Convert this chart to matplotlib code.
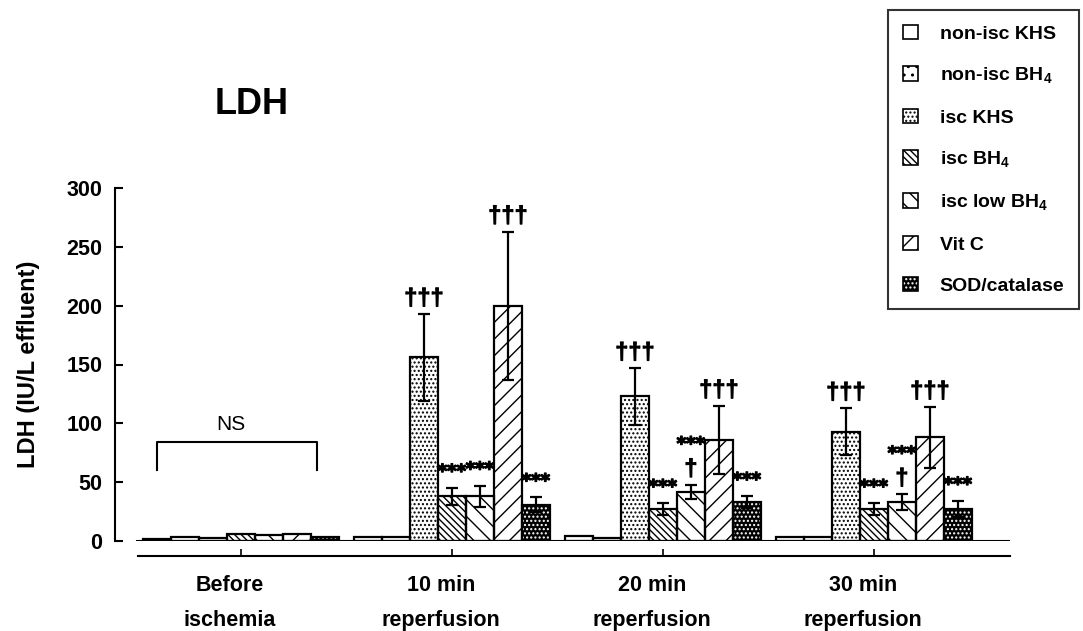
import numpy as np
import matplotlib
matplotlib.use('Agg')
import matplotlib.pyplot as plt
import matplotlib.patheffects as pe
from matplotlib.patches import Patch

plt.rcParams['font.family'] = ['Liberation Sans', 'DejaVu Sans']
plt.rcParams['mathtext.fontset'] = 'custom'
plt.rcParams['mathtext.rm'] = 'Liberation Sans:bold'
plt.rcParams['mathtext.bf'] = 'Liberation Sans:bold'
plt.rcParams['hatch.linewidth'] = 1.0

# Data (LDH, IU/L effluent)
groups = ['Before\nischemia', '10 min\nreperfusion', '20 min\nreperfusion', '30 min\nreperfusion']
labels = ['non-isc KHS', r'non-isc BH$_{\mathbf{4}}$', 'isc KHS', r'isc BH$_{\mathbf{4}}$',
          r'isc low BH$_{\mathbf{4}}$', 'Vit C', 'SOD/catalase']

nonisc_khs = [2, 3, 4.5, 3]
nonisc_bh4 = [3.5, 3, 2.5, 3]
isc_khs = [2.5, 156, 123, 93]
isc_bh4 = [6, 38, 27, 27]
isc_low_bh4 = [5.5, 38, 42, 33]
vitc = [6, 200, 86, 88]
sod = [3, 31, 33, 27]

nonisc_khs_se = [0, 0, 0, 0]
nonisc_bh4_se = [0, 0, 0, 0]
isc_khs_se = [0, 37, 24, 20]
isc_bh4_se = [0, 7, 5, 5]
isc_low_bh4_se = [0, 9, 6, 7]
vitc_se = [0, 63, 29, 26]
sod_se = [0, 6, 5, 7]

# significance marks, bottom to top
marks_khs = [[], ['†††'], ['†††'], ['†††']]
marks_bh4 = [[], ['***'], ['***'], ['***']]
marks_low = [[], ['***'], ['†', '***'], ['†', '***']]
marks_vitc = [[], ['†††'], ['†††'], ['†††']]
marks_sod = [[], ['***'], ['***'], ['***']]
marks_none = [[], [], [], []]

means = [nonisc_khs, nonisc_bh4, isc_khs, isc_bh4, isc_low_bh4, vitc, sod]
errs = [nonisc_khs_se, nonisc_bh4_se, isc_khs_se, isc_bh4_se, isc_low_bh4_se, vitc_se, sod_se]
marks = [marks_none, marks_none, marks_khs, marks_bh4, marks_low, marks_vitc, marks_sod]

# styles: (facecolor, hatch colour, hatch)
styles = [('white', 'black', None),
          ('white', 'black', '..'),
          ('white', 'black', '....'),
          ('white', 'black', '\\\\\\\\\\'),
          ('white', 'black', '\\\\'),
          ('white', 'black', '//'),
          ('black', 'white', '....')]

fig = plt.figure(figsize=(10.83, 6.31), dpi=100)
ax = fig.add_axes([115/1083, 1-541/631, 895/1083, 353/631])

x = np.arange(len(groups))
w = 0.1327
lw = 1.6
heavy_ast = [pe.withStroke(linewidth=1.0, foreground='black')]
heavy_dag = [pe.withStroke(linewidth=0.7, foreground='black')]
handles = []
for i, (m, e, mk, st) in enumerate(zip(means, errs, marks, styles)):
    xs = x + (i - 3) * w
    fc, hc, hatch = st
    ax.bar(xs, m, w, color=fc, edgecolor=hc, hatch=hatch, linewidth=0, zorder=2)
    ax.bar(xs, m, w, fill=False, edgecolor='black', linewidth=lw, zorder=3)
    e = np.array(e)
    m = np.array(m, dtype=float)
    sel = e > 0
    ax.errorbar(xs[sel], m[sel], yerr=e[sel], fmt='none', ecolor='black',
                elinewidth=1.6, capsize=4.5, capthick=1.6, zorder=4)
    for xi, mi, ei, ms in zip(xs, m, e, mk):
        stacked = False
        for s in ms:
            if s == '***':
                dy = 35 if stacked else 11
                fam, fs, eff = 'DejaVu Sans', 13, heavy_ast
            else:
                dy = 9
                fam, fs, eff = 'Liberation Sans', 17, heavy_dag
            ax.annotate(s, (xi, mi + ei), xytext=(0, dy), textcoords='offset pixels',
                        ha='center', va='baseline', fontsize=fs, fontweight='bold',
                        family=fam, annotation_clip=False, zorder=5, path_effects=eff)
            stacked = True
    h1 = Patch(facecolor=fc, edgecolor=hc, hatch=hatch, linewidth=0)
    h2 = Patch(fill=False, edgecolor='black', linewidth=1.2)
    handles.append((h1, h2))

# baseline under the bars
ax.axhline(0, xmin=22/895, xmax=1, color='black', linewidth=1.5, zorder=3)

# NS bracket over the first group
ns_left, ns_right, ns_top, ns_bottom = -0.40, 0.36, 84, 60
ax.plot([ns_left, ns_left, ns_right, ns_right], [ns_bottom, ns_top, ns_top, ns_bottom],
        color='black', linewidth=1.5)
ax.text((ns_left + ns_right) / 2 - 0.03, ns_top + 7, 'NS', ha='center', va='bottom', fontsize=15)

# axes styling
ax.set_xlim(-0.597, 3.645)
ax.set_ylim(0, 300)
ax.spines['top'].set_visible(False)
ax.spines['right'].set_visible(False)
ax.spines['left'].set_linewidth(1.5)
ax.spines['left'].set_bounds(0, 300)
ax.spines['bottom'].set_position(('outward', 10.8))
ax.spines['bottom'].set_linewidth(1.5)
ax.spines['bottom'].set_bounds(-0.49, 3.645)
ax.set_yticks([0, 50, 100, 150, 200, 250, 300])
ax.tick_params(axis='y', direction='in', length=6, width=1.5, pad=9, labelsize=15.5)
for t in ax.get_yticklabels():
    t.set_fontweight('bold')
ax.set_xticks(x)
ax.set_xticklabels([])
ax.tick_params(axis='x', direction='in', length=5, width=1.2)

trans = ax.get_xaxis_transform()
for xi, g in zip(x, groups):
    top, bottom = g.split('\n')
    ax.text(xi - 0.053, -0.125, top, transform=trans, ha='center', va='center',
            fontsize=15.5, fontweight='bold')
    ax.text(xi - 0.053, -0.224, bottom, transform=trans, ha='center', va='center',
            fontsize=15.5, fontweight='bold')

ax.set_ylabel('LDH (IU/L effluent)', fontsize=17, fontweight='bold')
ax.yaxis.set_label_coords(-0.084, 0.5)

fig.text(252/1083, 1-105/631, 'LDH', ha='center', va='center', fontsize=26, fontweight='bold')

leg = fig.legend(handles, labels, loc='upper right', bbox_to_anchor=(1079/1083, 1-10/631),
                 prop={'weight': 'bold', 'size': 14}, frameon=True, fancybox=False,
                 edgecolor='black', handlelength=0.8, handleheight=0.8, handletextpad=1.1,
                 labelspacing=1.17, borderpad=0.75, borderaxespad=0)
leg.get_frame().set_linewidth(1.5)

plt.savefig('out.png', dpi=100)
